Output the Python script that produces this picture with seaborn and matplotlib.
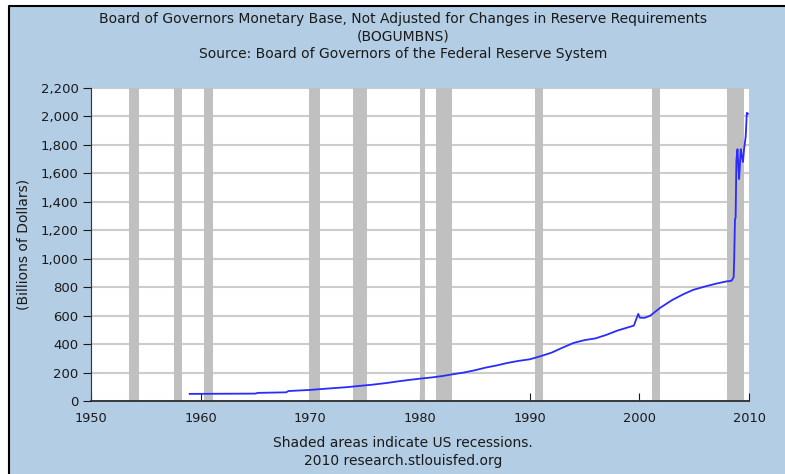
import pandas as pd
import matplotlib.pyplot as plt
import seaborn as sns
from matplotlib.patches import Rectangle
from matplotlib.lines import Line2D
from matplotlib.ticker import FuncFormatter

# monetary base (billions of dollars)
years = [1959.0, 1965.0, 1965.2, 1967.8, 1968.0, 1970.0, 1971.5, 1973.3, 1974.2, 1975.7,
         1977.0, 1978.0, 1979.0, 1980.0, 1981.0, 1982.0, 1983.0, 1984.0, 1985.0, 1986.0,
         1987.0, 1988.0, 1989.0, 1990.0, 1991.0, 1992.0, 1993.0, 1994.0, 1995.0, 1996.0,
         1997.0, 1998.0, 1999.5, 1999.9, 2000.05, 2000.5, 2001.0, 2001.9, 2003.0, 2004.0,
         2004.9, 2006.0, 2007.0, 2007.9, 2008.4, 2008.6, 2008.65, 2008.72, 2008.78, 2008.85,
         2008.95, 2009.05, 2009.1, 2009.25, 2009.35, 2009.45, 2009.55, 2009.7, 2009.8, 2009.9]
base = [50, 52, 57, 61, 70, 78, 87, 97, 104, 115,
        127, 138, 148, 157, 165, 175, 188, 200, 216, 235,
        250, 268, 282, 293, 315, 340, 375, 408, 428, 440,
        465, 495, 530, 612, 585, 585, 600, 655, 710, 750,
        781, 805, 825, 840, 845, 870, 1000, 1277, 1290, 1690,
        1770, 1620, 1560, 1770, 1720, 1680, 1770, 1860, 2025, 2020]

# NBER recessions
rec_start = [1953.5, 1957.6, 1960.3, 1969.9, 1973.9, 1980.0, 1981.5, 1990.5, 2001.2, 2007.95]
rec_end = [1954.4, 1958.3, 1961.1, 1970.9, 1975.2, 1980.5, 1982.9, 1991.2, 2001.9, 2009.5]

df = pd.DataFrame({"year": years, "base": base})

bg = "#B3CDE4"
txt = "#1a1a1a"

fig = plt.figure(figsize=(7.85, 4.74), dpi=100)
fig.patch.set_facecolor("white")
# blue panel, black edge only on top and left
x0, y1 = 8.5 / 785, 1 - 5.5 / 474
fig.patches.append(Rectangle((x0, 0), 1 - x0, y1, transform=fig.transFigure,
                             facecolor=bg, edgecolor="none", zorder=-10))
fig.lines.append(Line2D([x0, x0, 1], [0, y1, y1], transform=fig.transFigure,
                        color="black", lw=1.5))

ax = fig.add_axes([91 / 785, 1 - 401 / 474, (749 - 91) / 785, (401 - 88) / 474])
ax.set_facecolor("white")

for s, e in zip(rec_start, rec_end):
    ax.axvspan(s, e, color="#C0C0C0", lw=0, zorder=1)

sns.lineplot(data=df, x="year", y="base", ax=ax, color="#2B2BFF", lw=1.3, zorder=3)

ax.set_xlim(1950, 2010)
ax.set_ylim(0, 2200)
ax.set_yticks(range(0, 2201, 200))
ax.set_xticks(range(1950, 2011, 10))
ax.yaxis.set_major_formatter(FuncFormatter(lambda v, p: f"{v:,.0f}"))
ax.grid(axis="y", color="#CCCCCC", lw=1.5, zorder=0)
ax.grid(axis="x", visible=False)
ax.set_axisbelow(True)

for side in ["top", "right"]:
    ax.spines[side].set_visible(False)
ax.spines["left"].set_color("#333333")
ax.spines["bottom"].set_color("#222222")
ax.spines["bottom"].set_linewidth(1.2)

ax.tick_params(axis="y", direction="out", length=6, labelsize=9.5, colors=txt, pad=3)
ax.tick_params(axis="x", direction="in", length=6, labelsize=9.3, colors=txt, pad=8)
ax.set_xlabel("")
ax.set_ylabel("(Billions of Dollars)", fontsize=10, color=txt, labelpad=7)

cx = 403 / 785
fig.text(cx, 1 - 19 / 474, "Board of Governors Monetary Base, Not Adjusted for Changes in Reserve Requirements",
         ha="center", va="center", fontsize=10, color=txt)
fig.text(cx, 1 - 37 / 474, "(BOGUMBNS)", ha="center", va="center", fontsize=10, color=txt)
fig.text(cx, 1 - 54 / 474, "Source: Board of Governors of the Federal Reserve System",
         ha="center", va="center", fontsize=10, color=txt)
fig.text(cx, 1 - 443 / 474, "Shaded areas indicate US recessions.",
         ha="center", va="center", fontsize=10, color=txt)
fig.text(cx, 1 - 461 / 474, "2010 research.stlouisfed.org",
         ha="center", va="center", fontsize=10, color=txt)

fig.savefig("out.png", dpi=100, facecolor=fig.get_facecolor())
